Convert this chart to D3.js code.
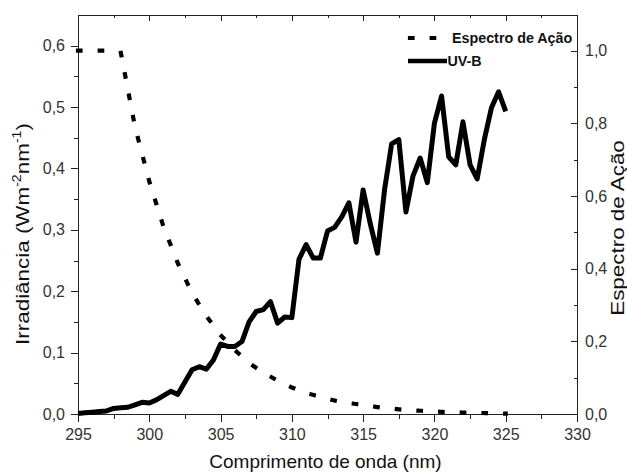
<!DOCTYPE html>
<html>
<head>
<meta charset="utf-8">
<script src="https://cdn.jsdelivr.net/npm/d3@7"></script>
<style>
    body { margin: 0; background: #fff; }
    svg { display: block; font-family: "Liberation Sans", Arial, sans-serif; }
    .axis path, .axis line { stroke: #222; shape-rendering: crispEdges; }
    .axis text { font-size: 16px; fill: #333; font-family: "Liberation Sans", Arial, sans-serif; }
    .axis-title { font-size: 19px; fill: #111; }
    .legend-label { font-size: 14.3px; font-weight: bold; fill: #111; }
</style>
</head>
<body>
<div id="chart"></div>
<script>
// UV-B irradiance, every 0.5 nm
const uvWavelengths = [295, 295.5, 296, 296.5, 297, 297.5, 298, 298.5, 299, 299.5,
    300, 300.5, 301, 301.5, 302, 302.5, 303, 303.5, 304, 304.5,
    305, 305.5, 306, 306.5, 307, 307.5, 308, 308.5, 309, 309.5,
    310, 310.5, 311, 311.5, 312, 312.5, 313, 313.5, 314, 314.5,
    315, 315.5, 316, 316.5, 317, 317.5, 318, 318.5, 319, 319.5,
    320, 320.5, 321, 321.5, 322, 322.5, 323, 323.5, 324, 324.5, 325];
const uvIrradiance = [0.001, 0.002, 0.003, 0.004, 0.005, 0.009, 0.010, 0.011, 0.015, 0.019,
    0.018, 0.023, 0.030, 0.037, 0.032, 0.052, 0.072, 0.077, 0.073, 0.088,
    0.114, 0.110, 0.110, 0.118, 0.150, 0.167, 0.170, 0.183, 0.148, 0.158,
    0.157, 0.252, 0.276, 0.254, 0.254, 0.298, 0.304, 0.321, 0.344, 0.280,
    0.365, 0.310, 0.262, 0.365, 0.440, 0.447, 0.329, 0.388, 0.417, 0.377,
    0.474, 0.518, 0.419, 0.406, 0.476, 0.406, 0.383, 0.447, 0.499, 0.525, 0.493];

// action spectrum (relative), every 1 nm
const actionWavelengths = [295, 296, 297, 298, 299, 300, 301, 302, 303, 304,
    305, 306, 307, 308, 309, 310, 311, 312, 313, 314,
    315, 316, 317, 318, 319, 320, 321, 322, 323, 324, 325];
const actionValues = [1.0, 1.0, 1.0, 0.995, 0.79, 0.64, 0.515, 0.415, 0.333, 0.27,
    0.217, 0.176, 0.14, 0.114, 0.092, 0.073, 0.058, 0.047, 0.037, 0.030,
    0.025, 0.019, 0.015, 0.011, 0.009, 0.007, 0.005, 0.004, 0.003, 0.002, 0.001];

const xTicks = [295, 300, 305, 310, 315, 320, 325, 330];
const leftTicks = [0, 0.1, 0.2, 0.3, 0.4, 0.5, 0.6];
const rightTicks = [0, 0.2, 0.4, 0.6, 0.8, 1.0];
const legendNames = ['Espectro de Ação', 'UV-B'];

const config = {
    containerWidth: 627,
    containerHeight: 473,
    margin: {top: 15, right: 50, bottom: 59, left: 78}
};

const width = config.containerWidth - config.margin.left - config.margin.right;
const height = config.containerHeight - config.margin.top - config.margin.bottom;

const svg = d3.select('#chart').append('svg')
    .attr('width', config.containerWidth)
    .attr('height', config.containerHeight);

const chart = svg.append('g')
    .attr('transform', `translate(${config.margin.left},${config.margin.top})`);

const xScale = d3.scaleLinear().domain([295, 330]).range([0, width]);
const yLeft = d3.scaleLinear().domain([0, 0.65]).range([height, 0]);
const yRight = d3.scaleLinear().domain([0, 1.098]).range([height, 0]);

const comma = d => d3.format('.1f')(d).replace('.', ',');

// minor ticks first, majors on top
const minor = (axis) => axis.tickFormat('');

chart.append('g').attr('class', 'axis')
    .attr('transform', `translate(0,${height})`)
    .call(minor(d3.axisBottom(xScale).tickValues([297.5, 302.5, 307.5, 312.5, 317.5, 322.5, 327.5]).tickSize(5)))
    .select('.domain').remove();
chart.append('g').attr('class', 'axis')
    .call(minor(d3.axisTop(xScale).tickValues([297.5, 302.5, 307.5, 312.5, 317.5, 322.5, 327.5]).tickSize(-3)))
    .select('.domain').remove();
chart.append('g').attr('class', 'axis')
    .call(minor(d3.axisLeft(yLeft).tickValues([0.05, 0.15, 0.25, 0.35, 0.45, 0.55]).tickSize(4)))
    .select('.domain').remove();
chart.append('g').attr('class', 'axis')
    .attr('transform', `translate(${width},0)`)
    .call(minor(d3.axisRight(yRight).tickValues([0.1, 0.3, 0.5, 0.7, 0.9]).tickSize(-3)))
    .select('.domain').remove();

// major axes
chart.append('g').attr('class', 'axis')
    .attr('transform', `translate(0,${height})`)
    .call(d3.axisBottom(xScale).tickValues(xTicks).tickSize(8).tickPadding(7).tickSizeOuter(0));
chart.append('g').attr('class', 'axis')
    .call(d3.axisTop(xScale).tickValues(xTicks).tickFormat('').tickSize(-6).tickSizeOuter(0));
chart.append('g').attr('class', 'axis')
    .call(d3.axisLeft(yLeft).tickValues(leftTicks).tickFormat(comma).tickSize(7).tickPadding(6).tickSizeOuter(0));
chart.append('g').attr('class', 'axis')
    .attr('transform', `translate(${width},0)`)
    .call(d3.axisRight(yRight).tickValues(rightTicks).tickFormat(comma).tickSize(-6).tickPadding(8).tickSizeOuter(0));

chart.selectAll('.axis .domain').attr('stroke-width', 1.3);

// action spectrum, dotted
const actionLine = d3.line()
    .x((d, i) => xScale(actionWavelengths[i]))
    .y(d => yRight(d));

chart.append('path')
    .datum(actionValues)
    .attr('fill', 'none')
    .attr('stroke', '#000')
    .attr('stroke-width', 4.2)
    .attr('stroke-linecap', 'square')
    .attr('stroke-dasharray', '2.5,19.2')
    .attr('d', actionLine);

// UV-B irradiance
const uvLine = d3.line()
    .x((d, i) => xScale(uvWavelengths[i]))
    .y(d => yLeft(d));

chart.append('path')
    .datum(uvIrradiance)
    .attr('fill', 'none')
    .attr('stroke', '#000')
    .attr('stroke-width', 5)
    .attr('stroke-linejoin', 'round')
    .attr('d', uvLine);

// legend
const legend = svg.append('g').attr('class', 'legend');
legend.append('line')
    .attr('x1', 410).attr('x2', 446).attr('y1', 38).attr('y2', 38)
    .attr('stroke', '#000').attr('stroke-width', 4.2)
    .attr('stroke-linecap', 'square')
    .attr('stroke-dasharray', '2.5,19.2');
legend.append('line')
    .attr('x1', 408).attr('x2', 447).attr('y1', 61).attr('y2', 61)
    .attr('stroke', '#000').attr('stroke-width', 4.5);
legend.selectAll('.legend-label')
    .data(legendNames)
    .join('text')
    .attr('class', 'legend-label')
    .attr('x', (d, i) => i == 0 ? 452 : 447.5)
    .attr('y', (d, i) => i == 0 ? 43 : 66)
    .text(d => d);

// axis titles
svg.append('text')
    .attr('class', 'axis-title')
    .attr('text-anchor', 'middle')
    .attr('x', config.margin.left + width / 2 - 2)
    .attr('y', 468)
    .text('Comprimento de onda (nm)');

const leftTitle = svg.append('text')
    .attr('class', 'axis-title')
    .attr('text-anchor', 'middle')
    .attr('transform', 'translate(29,234) rotate(-90) scale(1.18,1)');
leftTitle.append('tspan').text('Irradiância (Wm');
leftTitle.append('tspan').attr('font-size', 12).attr('dy', -8).text('-2');
leftTitle.append('tspan').attr('dy', 8).text('nm');
leftTitle.append('tspan').attr('font-size', 12).attr('dy', -8).text('-1');
leftTitle.append('tspan').attr('dy', 8).text(')');

svg.append('text')
    .attr('class', 'axis-title')
    .attr('text-anchor', 'middle')
    .attr('transform', 'translate(624,228) rotate(-90) scale(1.18,1)')
    .text('Espectro de Ação');
</script>
</body>
</html>
